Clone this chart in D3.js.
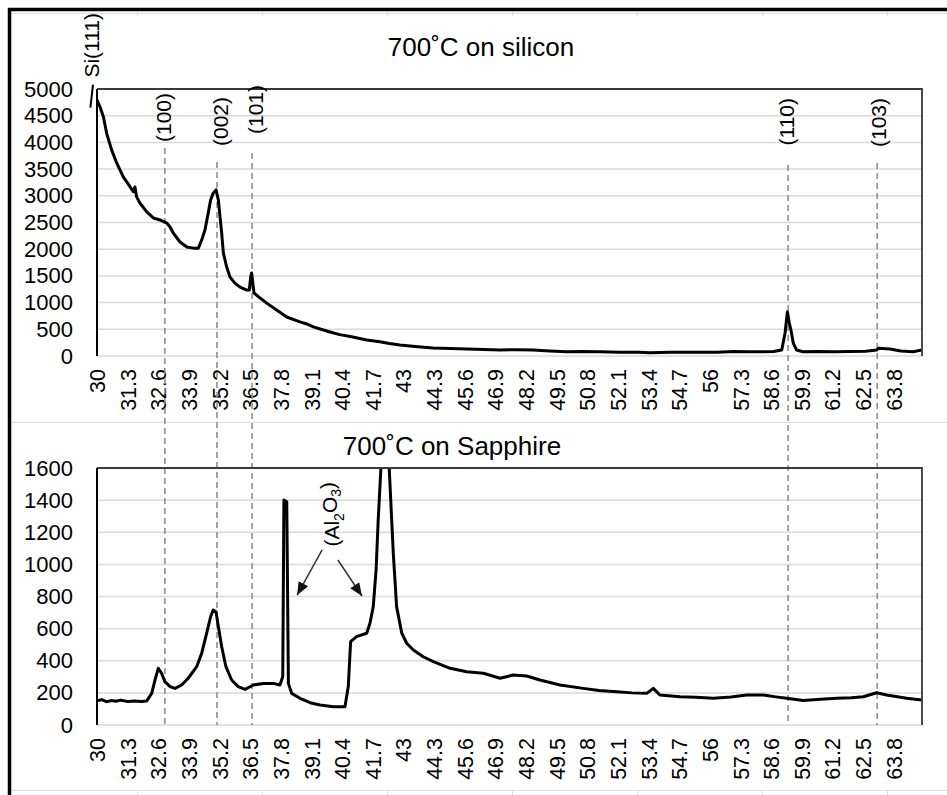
<!DOCTYPE html>
<html>
<head>
<meta charset="utf-8">
<script src="https://cdn.jsdelivr.net/npm/d3@7"></script>
<style>
body { margin: 0; background: #fff; }
svg { display: block; font-family: "Liberation Sans", Arial, sans-serif; }
</style>
</head>
<body>
<script>
// x tick labels (2 theta), same on both panels
var xTicks = [30, 31.3, 32.6, 33.9, 35.2, 36.5, 37.8, 39.1, 40.4, 41.7, 43, 44.3, 45.6,
              46.9, 48.2, 49.5, 50.8, 52.1, 53.4, 54.7, 56, 57.3, 58.6, 59.9, 61.2, 62.5, 63.8];
var siTicks = [0, 500, 1000, 1500, 2000, 2500, 3000, 3500, 4000, 4500, 5000];
var saTicks = [0, 200, 400, 600, 800, 1000, 1200, 1400, 1600];

// 700C on silicon
var siTheta = [30.00, 30.13, 30.27, 30.41, 30.62, 30.84, 31.12, 31.40, 31.54, 31.61, 31.68, 31.82,
               32.11, 32.39, 32.67, 32.96, 33.10, 33.24, 33.52, 33.81, 34.09, 34.30, 34.44, 34.58,
               34.72, 34.82, 34.93, 35.05, 35.15, 35.22, 35.29, 35.36, 35.50, 35.64, 35.85, 36.07,
               36.35, 36.46, 36.52, 36.56, 36.61, 36.66, 36.92, 37.20, 37.62, 38.05, 38.61, 38.90,
               39.18, 39.50, 39.89, 40.30, 40.80, 41.44, 42.00, 42.40, 42.85, 43.50, 44.25, 45.00,
               45.70, 46.40, 47.10, 47.80, 48.50, 49.20, 49.94, 50.60, 51.34, 52.20, 53.00, 53.46,
               54.30, 55.00, 55.58, 56.30, 57.00, 57.60, 58.25, 58.70, 59.05, 59.19, 59.29, 59.37,
               59.44, 59.54, 59.68, 59.95, 60.60, 61.30, 61.95, 62.60, 63.08, 63.15, 63.64, 64.10,
               64.62, 65.00];
var siCounts = [4795, 4663, 4480, 4170, 3860, 3610, 3350, 3170, 3075, 3165, 2980, 2865,
                2700, 2585, 2547, 2490, 2415, 2300, 2135, 2040, 2020, 2020, 2170, 2360,
                2680, 2920, 3050, 3110, 2920, 2600, 2300, 1930, 1670, 1480, 1365, 1290,
                1235, 1235, 1480, 1555, 1365, 1180, 1085, 990, 860, 730, 640, 600,
                545, 500, 450, 400, 360, 300, 265, 235, 206, 180, 150, 140,
                130, 120, 112, 118, 112, 95, 80, 85, 80, 72, 70, 62,
                68, 70, 70, 72, 85, 80, 80, 85, 112, 430, 830, 618,
                487, 243, 112, 80, 85, 78, 85, 90, 112, 143, 130, 95,
                80, 112];

// 700C on sapphire
var saTheta = [30.00, 30.20, 30.40, 30.60, 30.80, 31.00, 31.30, 31.60, 31.90, 32.11, 32.32, 32.46,
               32.60, 32.74, 32.88, 33.10, 33.31, 33.59, 33.87, 34.23, 34.44, 34.65, 34.82, 34.93,
               35.05, 35.15, 35.29, 35.47, 35.71, 35.99, 36.28, 36.63, 37.06, 37.48, 37.76, 37.88,
               37.93, 38.05, 38.12, 38.26, 38.61, 39.04, 39.46, 40.03, 40.52, 40.66, 40.76, 41.01,
               41.44, 41.58, 41.72, 41.84, 41.93, 42.04, 42.22, 42.40, 42.57, 42.71, 42.93, 43.14,
               43.42, 43.84, 44.27, 44.98, 45.68, 46.39, 47.10, 47.66, 48.23, 48.79, 49.64, 50.63,
               51.30, 52.05, 52.70, 53.32, 53.60, 53.88, 54.73, 55.40, 56.15, 56.90, 57.56, 58.27,
               58.80, 59.26, 59.96, 60.70, 61.38, 62.00, 62.51, 63.08, 63.50, 64.35, 65.00];
var saCounts = [150, 158, 145, 152, 148, 155, 146, 150, 147, 150, 197, 280,
                353, 322, 270, 239, 228, 249, 291, 363, 446, 571, 674, 716,
                705, 612, 487, 363, 280, 239, 222, 249, 259, 259, 249, 301,
                1401, 1390, 259, 197, 166, 139, 125, 114, 114, 239, 519, 550,
                571, 633, 737, 965, 1276, 1588, 6000, 1588, 1069, 737, 571, 509,
                467, 425, 394, 353, 332, 322, 291, 311, 305, 280, 249, 228,
                215, 207, 200, 197, 228, 187, 176, 172, 166, 175, 187, 187,
                175, 166, 152, 160, 166, 170, 176, 201, 187, 166, 156];

// peak markers (hkl of ZnO)
var peakNames = ["(100)", "(002)", "(101)", "(110)", "(103)"];
var peakTheta = [32.88, 35.09, 36.58, 59.32, 63.10];
var peakLabelTheta = [32.84, 35.26, 36.75, 59.27, 63.18];
var peakLabelTop = [4926, 4850, 5075, 4832, 4832];   // in silicon counts
var peakLineTop = [3896, 3633, 3802, 3577, 3615];

var width = 947, height = 795;

var svg = d3.select("body").append("svg")
    .attr("width", width)
    .attr("height", height);

var x = d3.scaleLinear().domain([30, 65]).range([97, 922]);
var ySi = d3.scaleLinear().domain([0, 5000]).range([356, 89]);
var ySa = d3.scaleLinear().domain([0, 1600]).range([725, 468]);

// faint spreadsheet cell lines
var cells = svg.append("g").attr("stroke", "#dcdcdc").attr("stroke-width", 1);
[422.5, 790.5].forEach(function(yy) {
    cells.append("line").attr("x1", 12).attr("x2", width).attr("y1", yy).attr("y2", yy);
});
[137, 262, 387, 512, 637, 762, 887].forEach(function(xx) {
    cells.append("line").attr("x1", xx + 0.5).attr("x2", xx + 0.5).attr("y1", 790).attr("y2", height);
    cells.append("line").attr("x1", xx + 0.5).attr("x2", xx + 0.5).attr("y1", 12).attr("y2", 16);
});
cells.append("line").attr("x1", 12).attr("x2", width).attr("y1", 13.5).attr("y2", 13.5);

// thick outer border (left and top)
svg.append("line").attr("x1", 9.5).attr("x2", 9.5).attr("y1", 8).attr("y2", height)
    .attr("stroke", "#000").attr("stroke-width", 3.5);
svg.append("line").attr("x1", 8).attr("x2", width).attr("y1", 9.5).attr("y2", 9.5)
    .attr("stroke", "#000").attr("stroke-width", 3.5);

var defs = svg.append("defs");
defs.append("marker")
    .attr("id", "arrow")
    .attr("markerUnits", "userSpaceOnUse")
    .attr("viewBox", "0 0 12 10")
    .attr("refX", 12).attr("refY", 5)
    .attr("markerWidth", 13).attr("markerHeight", 11)
    .attr("orient", "auto")
  .append("path")
    .attr("d", "M0,0L12,5L0,10Z")
    .attr("fill", "#111");

function drawPanel(name, y, ticks, title, titleX, titleY) {
    var top = y.range()[1], bottom = y.range()[0];
    var g = svg.append("g");

    // gridlines
    g.selectAll(".grid").data(ticks.slice(0, -1)).enter().append("line")
        .attr("x1", x.range()[0]).attr("x2", x.range()[1])
        .attr("y1", function(d) { return y(d); })
        .attr("y2", function(d) { return y(d); })
        .attr("stroke", "#d9d9d9").attr("stroke-width", 1.5);

    // y labels
    var ya = g.append("g")
        .attr("transform", "translate(" + x.range()[0] + ",0)")
        .call(d3.axisLeft(y).tickValues(ticks).tickSize(0).tickPadding(24)
            .tickFormat(d3.format("d")));
    ya.select(".domain").remove();
    ya.selectAll("text").attr("font-size", 22).attr("fill", "#000")
        .attr("font-family", "Liberation Sans, Arial, sans-serif");

    // x labels
    var xa = g.append("g")
        .attr("transform", "translate(0," + bottom + ")")
        .call(d3.axisBottom(x).tickValues(xTicks).tickSize(0)
            .tickFormat(function(d) { return String(+d.toFixed(1)); }));
    xa.select(".domain").remove();
    xa.selectAll("text")
        .attr("transform", "rotate(-90)")
        .attr("x", -13).attr("y", 0).attr("dy", "0.35em")
        .style("text-anchor", "end")
        .attr("font-size", 21.5).attr("fill", "#000")
        .attr("font-family", "Liberation Sans, Arial, sans-serif");

    svg.append("text")
        .attr("x", titleX).attr("y", titleY)
        .attr("text-anchor", "middle")
        .attr("font-size", 26)
        .attr("fill", "#000")
        .text(title);

    defs.append("clipPath").attr("id", "clip-" + name)
      .append("rect")
        .attr("x", x.range()[0]).attr("y", top)
        .attr("width", x.range()[1] - x.range()[0]).attr("height", bottom - top);

    return g;
}

function drawBox(y) {
    var top = y.range()[1], bottom = y.range()[0];
    svg.append("path")
        .attr("d", "M" + x.range()[0] + "," + top + "H" + x.range()[1] + "V" + bottom)
        .attr("fill", "none").attr("stroke", "#3a3a3a").attr("stroke-width", 1.8);
    svg.append("line")
        .attr("x1", x.range()[0]).attr("x2", x.range()[0])
        .attr("y1", top).attr("y2", bottom)
        .attr("stroke", "#000").attr("stroke-width", 2);
}

drawPanel("si", ySi, siTicks, "700˚C on silicon", 481, 56);
drawPanel("sa", ySa, saTicks, "700˚C on Sapphire", 452, 455);

// dashed peak lines running down through both panels
svg.append("g").selectAll("line").data(peakTheta).enter().append("line")
    .attr("x1", function(d) { return x(d); })
    .attr("x2", function(d) { return x(d); })
    .attr("y1", function(d, i) { return ySi(peakLineTop[i]); })
    .attr("y2", ySa(0))
    .attr("stroke", "#8f8f8f")
    .attr("stroke-width", 1.6)
    .attr("stroke-dasharray", "6,4");

svg.append("path")
    .datum(d3.zip(siTheta, siCounts))
    .attr("clip-path", "url(#clip-si)")
    .attr("d", d3.line().x(function(d) { return x(d[0]); }).y(function(d) { return ySi(d[1]); }))
    .attr("fill", "none").attr("stroke", "#000")
    .attr("stroke-width", 3).attr("stroke-linejoin", "round");

svg.append("path")
    .datum(d3.zip(saTheta, saCounts))
    .attr("clip-path", "url(#clip-sa)")
    .attr("d", d3.line().x(function(d) { return x(d[0]); }).y(function(d) { return ySa(d[1]); }))
    .attr("fill", "none").attr("stroke", "#000")
    .attr("stroke-width", 3).attr("stroke-linejoin", "round");

drawBox(ySi);
drawBox(ySa);

// peak labels
svg.append("g").selectAll("text").data(peakNames).enter().append("text")
    .attr("transform", function(d, i) {
        return "translate(" + x(peakLabelTheta[i]) + "," + ySi(peakLabelTop[i]) + ") rotate(-90)";
    })
    .attr("text-anchor", "end")
    .attr("dy", "0.35em")
    .attr("font-size", 21)
    .attr("fill", "#000")
    .text(function(d) { return d; });

// Si(111) label at the left edge
svg.append("text")
    .attr("transform", "translate(" + x(29.79) + "," + 13 + ") rotate(-90)")
    .attr("text-anchor", "end")
    .attr("dy", "0.35em")
    .attr("font-size", 21)
    .attr("fill", "#000")
    .text("Si(111)");
svg.append("line")
    .attr("x1", x(29.83)).attr("y1", ySi(5080))
    .attr("x2", x(29.72)).attr("y2", ySi(4650))
    .attr("stroke", "#000").attr("stroke-width", 2);

// (Al2O3) annotation with two arrows
var alLabel = svg.append("text")
    .attr("transform", "translate(" + x(39.97) + "," + ySa(1513) + ") rotate(-90)")
    .attr("text-anchor", "end")
    .attr("dy", "0.35em")
    .attr("font-size", 21)
    .attr("fill", "#000");
alLabel.append("tspan").text("(Al");
alLabel.append("tspan").attr("font-size", 14).attr("dy", "0.3em").text("2");
alLabel.append("tspan").attr("dy", "-0.3em").text("O");
alLabel.append("tspan").attr("font-size", 14).attr("dy", "0.3em").text("3");
alLabel.append("tspan").attr("dy", "-0.3em").text(")");

var arrows = [[[39.55, 1090], [38.49, 809]], [[40.22, 1027], [41.24, 803]]];
svg.append("g").selectAll("line").data(arrows).enter().append("line")
    .attr("x1", function(d) { return x(d[0][0]); })
    .attr("y1", function(d) { return ySa(d[0][1]); })
    .attr("x2", function(d) { return x(d[1][0]); })
    .attr("y2", function(d) { return ySa(d[1][1]); })
    .attr("stroke", "#333").attr("stroke-width", 1.5)
    .attr("marker-end", "url(#arrow)");
</script>
</body>
</html>
